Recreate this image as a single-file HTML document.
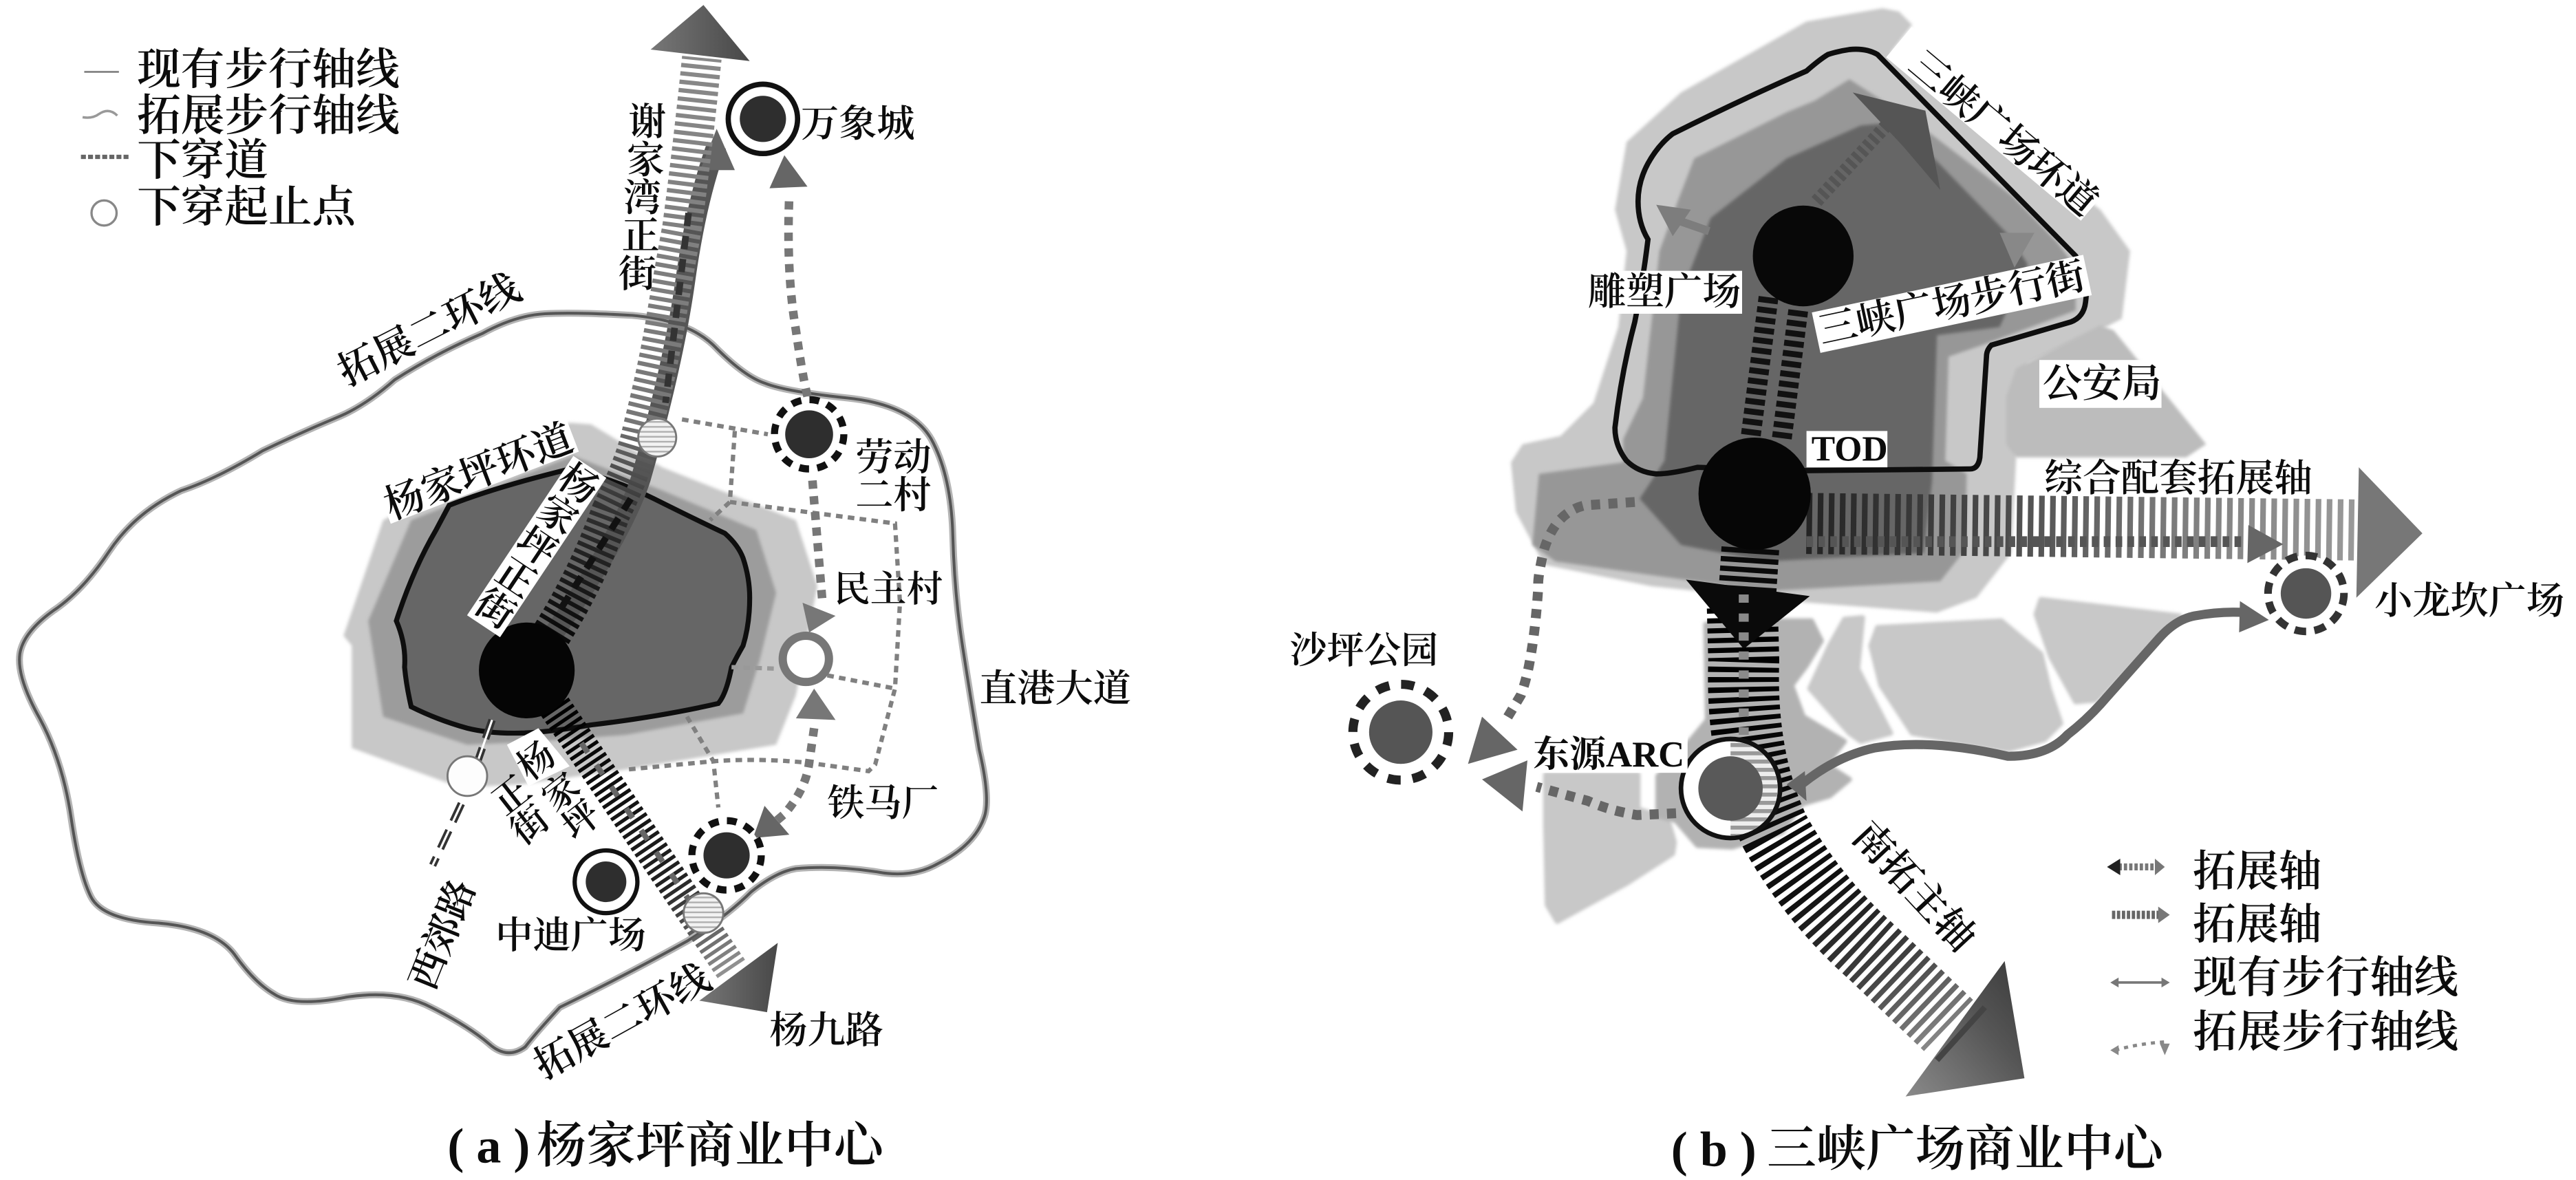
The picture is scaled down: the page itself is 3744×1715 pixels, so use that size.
<!DOCTYPE html>
<html lang="zh"><head><meta charset="utf-8"><title>商业中心</title>
<style>
html,body{margin:0;padding:0;background:#fff}
svg{display:block}
text{font-family:"Liberation Serif","Noto Serif CJK SC",serif;fill:#0c0c0c;font-weight:600;dominant-baseline:central}
.m{text-anchor:middle}
.l{font-weight:700}
</style></head><body>
<svg xmlns="http://www.w3.org/2000/svg" width="3744" height="1715" viewBox="0 0 1560 714.6">
<defs>
<filter id="b" x="-5%" y="-5%" width="110%" height="110%"><feGaussianBlur stdDeviation="1"/></filter>
<filter id="s" x="-20%" y="-20%" width="140%" height="140%"><feGaussianBlur stdDeviation="0.35"/></filter>
<pattern id="h" width="3" height="3" patternUnits="userSpaceOnUse"><rect width="3" height="3" fill="#f2f2f2"/><rect width="3" height="1" fill="#b0b0b0"/></pattern>
<pattern id="h2" width="5" height="5" patternUnits="userSpaceOnUse"><rect width="5" height="5" fill="#eee"/><rect width="5" height="2.4" fill="#999"/></pattern>
<linearGradient id="g1" gradientUnits="userSpaceOnUse" x1="320" y1="400" x2="425" y2="40"><stop offset="0" stop-color="#000"/><stop offset=".28" stop-color="#333"/><stop offset=".42" stop-color="#777"/><stop offset="1" stop-color="#888"/></linearGradient>
<linearGradient id="g2" gradientUnits="userSpaceOnUse" x1="340" y1="430" x2="445" y2="590"><stop offset="0" stop-color="#000"/><stop offset=".65" stop-color="#222"/><stop offset=".85" stop-color="#666"/><stop offset="1" stop-color="#999"/></linearGradient>
<linearGradient id="g3" gradientUnits="userSpaceOnUse" x1="1090" y1="0" x2="1430" y2="0"><stop offset="0" stop-color="#222"/><stop offset=".35" stop-color="#4a4a4a"/><stop offset=".7" stop-color="#808080"/><stop offset="1" stop-color="#9a9a9a"/></linearGradient>
<linearGradient id="g4" gradientUnits="userSpaceOnUse" x1="1060" y1="400" x2="1185" y2="625"><stop offset="0" stop-color="#000"/><stop offset=".55" stop-color="#111"/><stop offset=".8" stop-color="#444"/><stop offset="1" stop-color="#888"/></linearGradient>
<linearGradient id="a1" x1="0" x2="1" y1="0" y2="0"><stop offset="0" stop-color="#777"/><stop offset="1" stop-color="#484848"/></linearGradient>
<linearGradient id="a2" x1="0" x2="1" y1="1" y2="0"><stop offset="0" stop-color="#8a8a8a"/><stop offset=".6" stop-color="#555"/><stop offset="1" stop-color="#3a3a3a"/></linearGradient>
</defs>
<rect width="1560" height="714.6" fill="#fff"/>

<!-- LEFT: outline ring -->
<path id="ring" d="M24,435 Q10,410 12,396 Q14,383 32,370 Q50,358 66,334 Q82,310 110,297 Q131,290 159,273 Q182,262 206,252 Q222,245 239,230 Q264,214 292,202 Q312,191 330,190 Q348,189 383,191 Q418,194 434,211 Q451,228 463,232 Q475,237 513,241 Q552,245 564,266 Q576,288 577,324 Q578,360 583,392 Q588,424 593,454 Q600,484 596,495 Q590,512 568,523 Q552,532 531,528 Q505,524 482,526 Q470,528 455,540 Q440,555 416,570 Q380,590 339,610 Q325,625 318,634 Q307,642 296,632 Q283,621 261,610 Q240,599 209,604 Q178,610 166,602 Q154,595 142,578 Q130,562 96,559 Q62,557 55,543 Q48,529 43,495 Q38,461 24,435 Z" fill="#fff" stroke="#b4b4b4" stroke-width="4.2"/>
<path d="M24,435 Q10,410 12,396 Q14,383 32,370 Q50,358 66,334 Q82,310 110,297 Q131,290 159,273 Q182,262 206,252 Q222,245 239,230 Q264,214 292,202 Q312,191 330,190 Q348,189 383,191 Q418,194 434,211 Q451,228 463,232 Q475,237 513,241 Q552,245 564,266 Q576,288 577,324 Q578,360 583,392 Q588,424 593,454 Q600,484 596,495 Q590,512 568,523 Q552,532 531,528 Q505,524 482,526 Q470,528 455,540 Q440,555 416,570 Q380,590 339,610 Q325,625 318,634 Q307,642 296,632 Q283,621 261,610 Q240,599 209,604 Q178,610 166,602 Q154,595 142,578 Q130,562 96,559 Q62,557 55,543 Q48,529 43,495 Q38,461 24,435 Z" fill="none" stroke="#555" stroke-width="1.7"/>

<!-- LEFT: blobs -->
<polygon filter="url(#b)" fill="#c8c8c8" points="345,256 358,257 401,283 482,315 495,355 482,421 470,451 379,466 315,475 279,477 213,453 213,391 208,385 232,315"/>
<polygon filter="url(#b)" fill="#9c9c9c" points="249,315 347,276 401,297 458,321 470,359 460,400 450,432 379,445 326,449 283,451 232,434 223,376"/>
<path d="M272,306 Q300,295 345,284 Q372,290 396,302 Q420,314 439,323 Q447,330 450,338 Q454,350 454,362 Q454,378 450,391 Q446,398 443,404 Q440,420 435,426 Q400,434 358,439 Q330,444 311,444 Q295,444 283,441 Q265,436 249,428 Q246,415 245,404 Q246,390 240,376 Q250,345 264,321 Z" fill="#666" stroke="#0e0e0e" stroke-width="3"/>

<!-- LEFT: thin dotted network -->
<g fill="none" stroke="#808080" stroke-width="2.6" stroke-dasharray="4 3.2">
<path d="M413,254 L465,263"/>
<path d="M445,261 L442,304 L430,315"/>
<path d="M442,304 L542,317 L545,365 L542,417 L530,463 L526,467 L490,462 Q460,459 432,461 L380,466"/>
<path d="M501,409 L542,417"/>
<path d="M443,404 L471,405" stroke="#999"/>
<path d="M416,434 L432,461 L435,489"/>
</g>

<!-- LEFT: dark band + stripes north -->
<path d="M320,405 Q375,330 388,290 Q408,220 415,170 Q422,120 434,88" fill="none" stroke="#555" stroke-width="12"/>
<polygon points="434,78 445,103 424,103" fill="#666"/>
<path d="M320,405 Q352,360 370,310 Q385,280 389,260 Q398,225 403,195 Q408,165 413,138 Q420,85 425,35" fill="none" stroke="url(#g1)" stroke-width="24" stroke-dasharray="2.6 2.5"/>
<polygon points="426,3 454,37 394,30" fill="url(#a1)"/>
<path d="M417,129 L403,244" stroke="#333" stroke-width="4" stroke-dasharray="8 6" fill="none"/>
<path d="M382,302 L340,368" stroke="#111" stroke-width="4" stroke-dasharray="8 6" fill="none"/>

<!-- LEFT: stripes south-east -->
<path d="M336,428 L443,587" fill="none" stroke="url(#g2)" stroke-width="20" stroke-dasharray="2.2 2.2"/>
<path d="M352,450 L422,552" stroke="#666" stroke-width="3.4" stroke-dasharray="7 9" fill="none"/>
<polygon points="471,571 464.5,613 423.5,606" fill="url(#a1)"/>

<!-- LEFT: west double dash -->
<path d="M298,436 L283,479 L262,524" fill="none" stroke="#333" stroke-width="4.5" stroke-dasharray="12 6"/>
<path d="M298,436 L283,479 L262,524" fill="none" stroke="#fff" stroke-width="1.3"/>

<!-- LEFT: thick dotted -->
<g fill="none" stroke="#777" stroke-width="5.2" stroke-dasharray="5 4.5">
<path d="M489,240 Q486,228 482,200 Q476,165 478,118"/>
<path d="M492,291 L498,364"/>
<path d="M493,441 L490,462 Q488,478 475,493 L468,499"/>
</g>
<polygon points="475,94 489,113 466,114" fill="#666"/>
<polygon points="486,365 506,373 490,383" fill="#777"/>
<polygon points="493,417 506,436 482,435" fill="#777"/>
<polygon points="463,488 478,505.5 456,507.5" fill="#666"/>

<!-- LEFT: nodes -->
<circle cx="319" cy="406" r="29" fill="#050505"/>
<circle cx="398" cy="265" r="11.5" fill="url(#h)" stroke="#777" stroke-width="1.2"/>
<circle cx="283" cy="470" r="12" fill="#fdfdfd" stroke="#777" stroke-width="1.2"/>
<circle cx="426" cy="553" r="12" fill="url(#h)" stroke="#777" stroke-width="1.2"/>
<circle cx="462" cy="72" r="21" fill="#fff" stroke="#111" stroke-width="3.2"/><circle cx="462" cy="72" r="14" fill="#2e2e2e"/>
<circle cx="367" cy="534" r="19" fill="#fff" stroke="#111" stroke-width="2.6"/><circle cx="367" cy="534" r="12.3" fill="#2e2e2e"/>
<circle cx="490" cy="263" r="21" fill="#fff" stroke="#111" stroke-width="4.3" stroke-dasharray="6 5"/><circle cx="490" cy="263" r="14.5" fill="#2e2e2e"/>
<circle cx="440" cy="518" r="21" fill="#fff" stroke="#111" stroke-width="4.3" stroke-dasharray="6 5"/><circle cx="440" cy="518" r="14" fill="#2e2e2e"/>
<circle cx="488" cy="399" r="14" fill="#fff" stroke="#777" stroke-width="5"/>

<!-- LEFT: legend -->
<path d="M51,43.5 H72" stroke="#888" stroke-width="1.2"/>
<path d="M50,71 Q56,72 60,69 Q66,65 71,70" stroke="#999" stroke-width="1.5" fill="none"/>
<path d="M49,95 H78" stroke="#666" stroke-width="2.6" stroke-dasharray="3 1.3"/>
<circle cx="63" cy="129" r="7.6" fill="#fff" stroke="#888" stroke-width="1.4"/>
<text x="83" y="42" font-size="26.5">现有步行轴线</text>
<text x="83" y="70" font-size="26.5">拓展步行轴线</text>
<text x="83" y="97" font-size="26.5">下穿道</text>
<text x="83" y="125.5" font-size="26.5">下穿起止点</text>

<!-- LEFT: labels -->
<text x="485" y="75" font-size="23">万象城</text>
<g font-size="23">
<text class="m" x="392" y="74">谢</text><text class="m" x="391" y="97">家</text><text class="m" x="389" y="120">湾</text><text class="m" x="388" y="143">正</text><text class="m" x="386" y="166">街</text>
</g>
<text class="m" font-size="24" transform="translate(260,200) rotate(-27)">拓展二环线</text>
<g transform="translate(290,286) rotate(-21)"><rect x="-61" y="-21" width="122" height="31" fill="#fff"/><text class="m" font-size="24">杨家坪环道</text></g>
<g transform="translate(325,331) rotate(33.7)" font-size="23"><rect x="-12" y="-58" width="24" height="116" fill="#fff"/>
<text class="m" y="-45.6">杨</text><text class="m" y="-22.8">家</text><text class="m" y="0">坪</text><text class="m" y="22.8">正</text><text class="m" y="45.6">街</text></g>
<polygon points="326,441 307,451 320,476 345,464" fill="#fff"/>
<g font-size="22">
<text class="m" transform="translate(325,461) rotate(-38)">杨</text>
<text class="m" transform="translate(340,480) rotate(-38)">家</text>
<text class="m" transform="translate(352,497) rotate(-38)">坪</text>
<text class="m" transform="translate(310,482) rotate(-38)">正</text>
<text class="m" transform="translate(321,500) rotate(-38)">街</text>
</g>
<text x="518" y="277" font-size="23">劳动</text><text x="518" y="300" font-size="23">二村</text>
<text x="505" y="357" font-size="22">民主村</text>
<text x="593" y="417" font-size="23">直港大道</text>
<text x="501" y="486.5" font-size="22.5">铁马厂</text>
<text x="300" y="566.5" font-size="22.8">中迪广场</text>
<text x="466" y="624" font-size="23">杨九路</text>
<text class="m" font-size="23" transform="translate(268,566) rotate(-68)">西郊路</text>
<text class="m" font-size="23.5" transform="translate(377,619) rotate(-29)">拓展二环线</text>
<text x="271" y="694" font-size="30" class="l">( a )</text>
<text x="325" y="694" font-size="30">杨家坪商业中心</text>

<!-- RIGHT: blobs -->
<polygon filter="url(#b)" fill="#c8c8c8" points="1140,5 1150,7 1158,15 1145,32 1272,127 1290,152 1285,193 1262,205 1228,220 1221,277 1218,335 1197,362 1173,371 1096,365 1000,355 935,342 918,310 915,280 922,269 945,264 965,244 980,198 985,152 978,127 985,86 1018,56 1094,13"/>
<polygon filter="url(#b)" fill="#bcbcbc" points="1272,197 1280,200 1336,269 1324,277 1221,277 1215,269 1215,240 1221,223 1250,208"/>
<polygon filter="url(#b)" fill="#979797" points="1120,48 1160,74 1219,119 1246,147 1257,162 1257,188 1203,208 1180,216 1178,279 1191,287 1190,333 1175,352 1069,358 942,340 928,330 932,287 983,280 983,266 995,241 1005,152 1016,122 1026,96 1082,68 1099,61"/>
<polygon filter="url(#b)" fill="#666" points="1036,132 1082,96 1127,76 1150,74 1216,142 1228,160 1211,198 1173,203 1170,292 1165,335 1069,340 1018,330 993,302 1008,279 1018,178"/>
<path d="M1120,30 Q1130,29 1137,33 L1257,155 Q1265,170 1263,183 Q1262,192 1254,195 L1206,209 Q1203,212 1203,216 L1199,277 Q1198,284 1193,284 L1094,285 L1028,283 Q1012,287 1003,287 Q992,286 985,279 Q978,270 978,259 Q982,225 990,195 Q995,170 998,145 Q992,135 992,122 Q992,110 998,99 Q1004,88 1013,81 Q1055,60 1094,43 Q1102,36 1107,33 Q1113,31 1120,30 Z" fill="none" stroke="#0e0e0e" stroke-width="3.2"/>

<!-- RIGHT: lower blobs -->
<g filter="url(#b)" fill="#c8c8c8" stroke="#c8c8c8" stroke-width="3" stroke-linejoin="round">
<polygon points="1137,380 1212,376 1236,396 1241,417 1248,438 1238,448 1216,454 1180,448 1158,444 1139,415 1133,391"/>
<polygon points="1236,363 1320,373 1310,381 1269,424 1257,425 1242,398 1233,372"/>
<polygon points="1117,375 1128,374 1125,405 1145,444 1127,449 1120,444 1096,417 1108,391"/>
<polygon points="936,469 992,469 992,490 1010,496 1014,510 1013,517 985,535 943,558 937,548 936,500"/>
</g>
<g filter="url(#b)" fill="#b2b2b2" stroke="#b2b2b2" stroke-width="3" stroke-linejoin="round">
<polygon points="1033,378 1077,376 1097,376 1103,388 1094,403 1085,415 1092,434 1117,449 1106,463 1120,472 1108,482 1091,487 1079,504 1049,513 1028,512 1015,497 1004,494 1004,470 1015,459 1034,436"/>
</g>

<!-- RIGHT: south axis -->
<path d="M1060,332 L1058,362" fill="none" stroke="#0a0a0a" stroke-width="35" stroke-dasharray="3.2 2.6"/>
<path d="M1055,362 L1056,400 Q1054,460 1075,504 Q1098,545 1134,577 L1180,621" fill="none" stroke="url(#g4)" stroke-width="43" stroke-dasharray="3.1 2.9"/>
<polygon points="1021,351 1096,361 1056,393" fill="#0a0a0a"/>
<path d="M1056,360 V445" stroke="#8a8a8a" stroke-width="6" stroke-dasharray="5 6.5" fill="none"/>
<polygon points="1214,582 1226,653 1154,664" fill="url(#a2)"/>
<path d="M1202,610 L1173,642" stroke="#444" stroke-width="3.5"/>

<!-- RIGHT: east axis -->
<path d="M1094,317 L1430,321" fill="none" stroke="url(#g3)" stroke-width="37" stroke-dasharray="3.4 3.3"/>
<path d="M1094,328 H1360" stroke="#555" stroke-width="6.5" stroke-dasharray="4 3.2" fill="none"/>
<polygon points="1428.5,283 1467,323 1427,362" fill="#777"/>
<polygon points="1361.6,318 1382.7,329.6 1361,341" fill="#666"/>

<!-- RIGHT: upper axes -->
<path d="M1100,122 L1146,72" fill="none" stroke="#555" stroke-width="8" stroke-dasharray="2.8 2.2"/>
<path d="M1120,137 L1156,96" fill="none" stroke="#666" stroke-width="8" stroke-dasharray="2.8 2.2"/>
<polygon points="1122,56 1166,67 1175,115 1152,88" fill="#555"/>
<path d="M1035,140 L1012,132" stroke="#7d7d7d" stroke-width="5" fill="none"/>
<polygon points="1003,124 1024,127 1013,143" fill="#7d7d7d"/>
<polygon points="1211,141 1232,141 1220,162" fill="#888"/>
<path d="M1071,180 L1060,266" fill="none" stroke="#111" stroke-width="12" stroke-dasharray="3.6 2.6"/>
<path d="M1089,188 L1079,266" fill="none" stroke="#111" stroke-width="12" stroke-dasharray="3.6 2.6"/>

<!-- RIGHT: dotted walk lines -->
<g fill="none" stroke="#666" stroke-width="6" stroke-dasharray="5.5 5">
<path d="M990,304 L960,306 Q942,310 935,333 Q931,350 931.6,355 Q930,380 927,397 Q925,410 921,421 L912,436"/>
<path d="M1015,492.5 L991.5,493.6 Q975,491 961.5,485 L930.6,476.5"/>
</g>
<polygon points="897.5,434 919,454 889,462.6" fill="#666"/>
<polygon points="925,460.5 897.5,472 922,491.4" fill="#666"/>

<!-- RIGHT: curve -->
<path d="M1091,475 Q1112,458 1135,453 Q1168,447 1216,458 Q1240,458 1252,445 Q1265,435 1276,422 L1308,386 Q1318,375 1329,373 Q1345,370 1360,371" fill="none" stroke="#666" stroke-width="5.5"/>
<polygon points="1356.5,364 1374,375.4 1356,383" fill="#666"/>
<polygon points="1082,475 1093,467 1094,485" fill="#666"/>

<!-- RIGHT: nodes -->
<circle cx="1092" cy="155" r="30.5" fill="#080808"/>
<circle cx="1062.6" cy="299" r="34" fill="#060606"/>
<circle cx="1048" cy="477.5" r="30" fill="#fff" stroke="#111" stroke-width="2.8"/>
<path d="M1048,449 A28.5,28.5 0 0 1 1048,506 Z" fill="url(#h2)"/>
<circle cx="1048" cy="477.5" r="19.5" fill="#595959"/>
<circle cx="848.3" cy="443.4" r="29" fill="#fff" stroke="#222" stroke-width="5.5" stroke-dasharray="8 7.2"/><circle cx="848.3" cy="443.4" r="19.2" fill="#555"/>
<circle cx="1396.5" cy="359.4" r="23" fill="#fff" stroke="#333" stroke-width="4.6" stroke-dasharray="7 5"/><circle cx="1396.5" cy="359.4" r="15.3" fill="#555"/>

<!-- RIGHT: labels -->
<g transform="translate(1213,81) rotate(40)"><rect x="-84" y="-14" width="154" height="24" fill="#fff"/><text class="m" font-size="23.4">三峡广场环道</text></g>
<g transform="translate(1182,184) rotate(-12)"><rect x="-84" y="-12.5" width="168" height="25" fill="#fff"/><text class="m" font-size="23.5">三峡广场步行街</text></g>
<rect x="961" y="164" width="94" height="26" fill="#fff"/><text x="961.5" y="177" font-size="23.2">雕塑广场</text>
<rect x="1235" y="218" width="74" height="29" fill="#fff"/><text x="1237" y="232.5" font-size="24">公安局</text>
<rect x="1094" y="261" width="49" height="22" fill="#fff"/><text x="1097" y="272" font-size="21.5" class="l">TOD</text>
<text x="1238" y="290" font-size="23.2">综合配套拓展轴</text>
<text x="1438" y="364" font-size="23">小龙坎广场</text>
<text x="781" y="394" font-size="22.5">沙坪公园</text>
<rect x="927" y="445.5" width="95" height="22.5" fill="#fff"/><text x="928.5" y="457" font-size="22" class="l">东源ARC</text>
<text class="m" font-size="24" transform="translate(1159,537) rotate(47)">南拓主轴</text>

<!-- RIGHT: legend -->
<path d="M1283,525 H1306" stroke="#777" stroke-width="4.2" stroke-dasharray="2 1.2"/><polygon points="1276,525 1284,520 1284,530" fill="#222"/><polygon points="1311,525 1305,520 1305,530" fill="#777"/>
<path d="M1279,554 H1308" stroke="#666" stroke-width="5" stroke-dasharray="2 1"/><polygon points="1314,554 1307,549 1307,559" fill="#777"/>
<path d="M1281,595 H1311" stroke="#777" stroke-width="1.5"/><polygon points="1278,595 1283,592 1283,598" fill="#777"/><polygon points="1314,595 1309,592 1309,598" fill="#777"/>
<path d="M1281,636 Q1295,632 1311,631" stroke="#888" stroke-width="2" fill="none" stroke-dasharray="2.5 3"/><polygon points="1278,636 1283,633 1283,639" fill="#888"/><polygon points="1311,639 1308,632 1314,632" fill="#888"/>
<text x="1328" y="528" font-size="26">拓展轴</text>
<text x="1328" y="560" font-size="26">拓展轴</text>
<text x="1328" y="592" font-size="26.8">现有步行轴线</text>
<text x="1328" y="625" font-size="26.8">拓展步行轴线</text>
<text x="1012" y="696" font-size="30" class="l">( b )</text>
<text x="1070" y="696" font-size="30">三峡广场商业中心</text>
</svg>
</body></html>
